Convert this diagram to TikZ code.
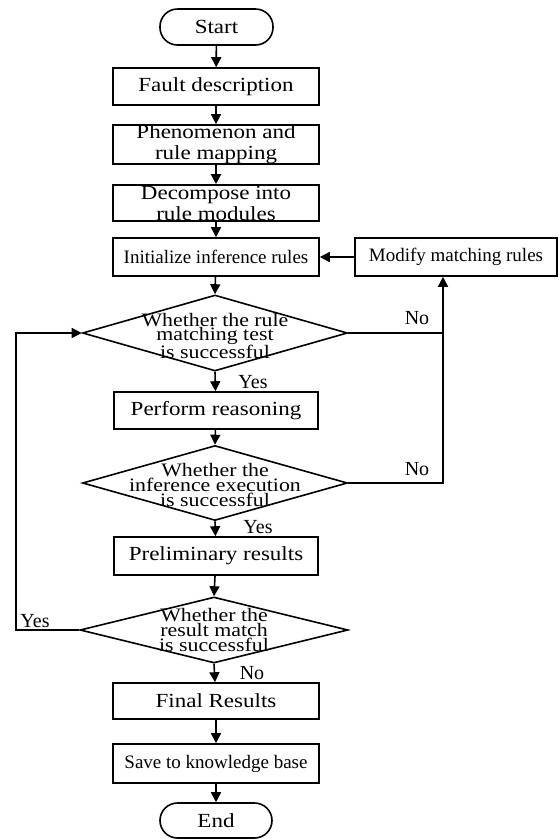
\documentclass[tikz,border=0pt]{standalone}
\usepackage{fontspec}
\setmainfont{Liberation Serif}
\newfontfamily\wideserif[FakeStretch=1.15]{Liberation Serif}
\usetikzlibrary{shapes.geometric,arrows.meta}
\begin{document}
\begin{tikzpicture}[x=1pt,y=-1pt,
  ln/.style={line width=1.6pt},
  arr/.style={line width=1.6pt,-{Triangle[length=10pt,width=10pt]}},
  box/.style={draw,line width=1.6pt,minimum width=206pt,minimum height=37pt,inner sep=0pt,align=center,font=\wideserif\fontsize{20}{21}\selectfont},
  nbox/.style={box,font=\fontsize{19}{20}\selectfont},
  term/.style={draw,line width=1.6pt,rounded corners=17.5pt,minimum width=113pt,minimum height=36pt,inner sep=0pt,font=\wideserif\fontsize{20}{21}\selectfont},
  dia/.style={draw,diamond,line width=1.6pt,inner sep=0pt,minimum width=265pt,minimum height=76pt},
  dtext/.style={align=center,inner sep=0pt,font=\wideserif\fontsize{19}{13}\selectfont},
  lab/.style={inner sep=0pt,font=\fontsize{20}{21}\selectfont}]
\useasboundingbox (0,0) rectangle (558,839);
\node[term] (start) at (216.5,27) {Start};
\node[box] (fault) at (216,86.5) {Fault description};
\node[box] (phen) at (216,144.5) {Phenomenon and\\rule mapping};
\node[box,minimum height=36pt] (decomp) at (216,203) {Decompose into\\rule modules};
\node[nbox,minimum height=38pt] (init) at (216,257) {Initialize inference rules};
\node[nbox,minimum height=38pt,minimum width=202pt] (modify) at (456,257) {Modify matching rules};
\node[dia] (d1) at (215,333) {};
\node[dtext] (t1) at (215,336) {Whether the rule\\matching test\\is successful};
\node[box,minimum width=204pt] (perform) at (216,410.5) {Perform reasoning};
\node[dia,minimum height=75pt] (d2) at (215,483) {};
\node[dtext] (t2) at (215,485) {Whether the\\inference execution\\is successful};
\node[box,minimum width=204pt,minimum height=38pt] (prelim) at (216,556) {Preliminary results};
\node[dia,minimum width=268pt,minimum height=66pt] (d3) at (214,630) {};
\node[dtext] (t3) at (214,630) {Whether the\\result match\\is successful};
\node[box,minimum height=36pt] (final) at (216,701) {Final Results};
\node[nbox,minimum height=39pt] (save) at (216,763.5) {Save to knowledge base};
\node[term,minimum width=112pt,minimum height=35pt] (end) at (216,820.5) {End};
\node[lab] (yes1) at (253,382) {Yes};
\node[lab] (no1) at (417,318) {No};
\node[lab] (no2) at (417,469) {No};
\node[lab] (yes2) at (258,527) {Yes};
\node[lab] (yes3) at (35,621) {Yes};
\node[lab] (no3) at (252,673) {No};
\coordinate (rc1) at (443,333);
\coordinate (rc2) at (443,483);
\coordinate (lc) at (16,630);
\draw[arr] (start) -- (fault);
\draw[arr] (fault) -- (phen);
\draw[arr] (phen) -- (decomp);
\draw[arr] (decomp) -- (init);
\draw[arr] (init) -- (d1.north);
\draw[arr] (d1.south) -- (perform);
\draw[arr] (perform) -- (d2.north);
\draw[arr] (d2.south) -- (prelim);
\draw[arr] (prelim) -- (d3.north);
\draw[arr] (d3.south) -- (final);
\draw[arr] (final) -- (save);
\draw[arr] (save) -- (end);
\draw[arr] (modify.west) -- (init.east);
\draw[ln] (d1.east) -- (rc1);
\draw[arr] (d2.east) -- (rc2) -- (rc1 |- modify.south);
\draw[arr] (d3.west) -- (lc) -- (lc |- d1.west) -- (d1.west);
\end{tikzpicture}
\end{document}
